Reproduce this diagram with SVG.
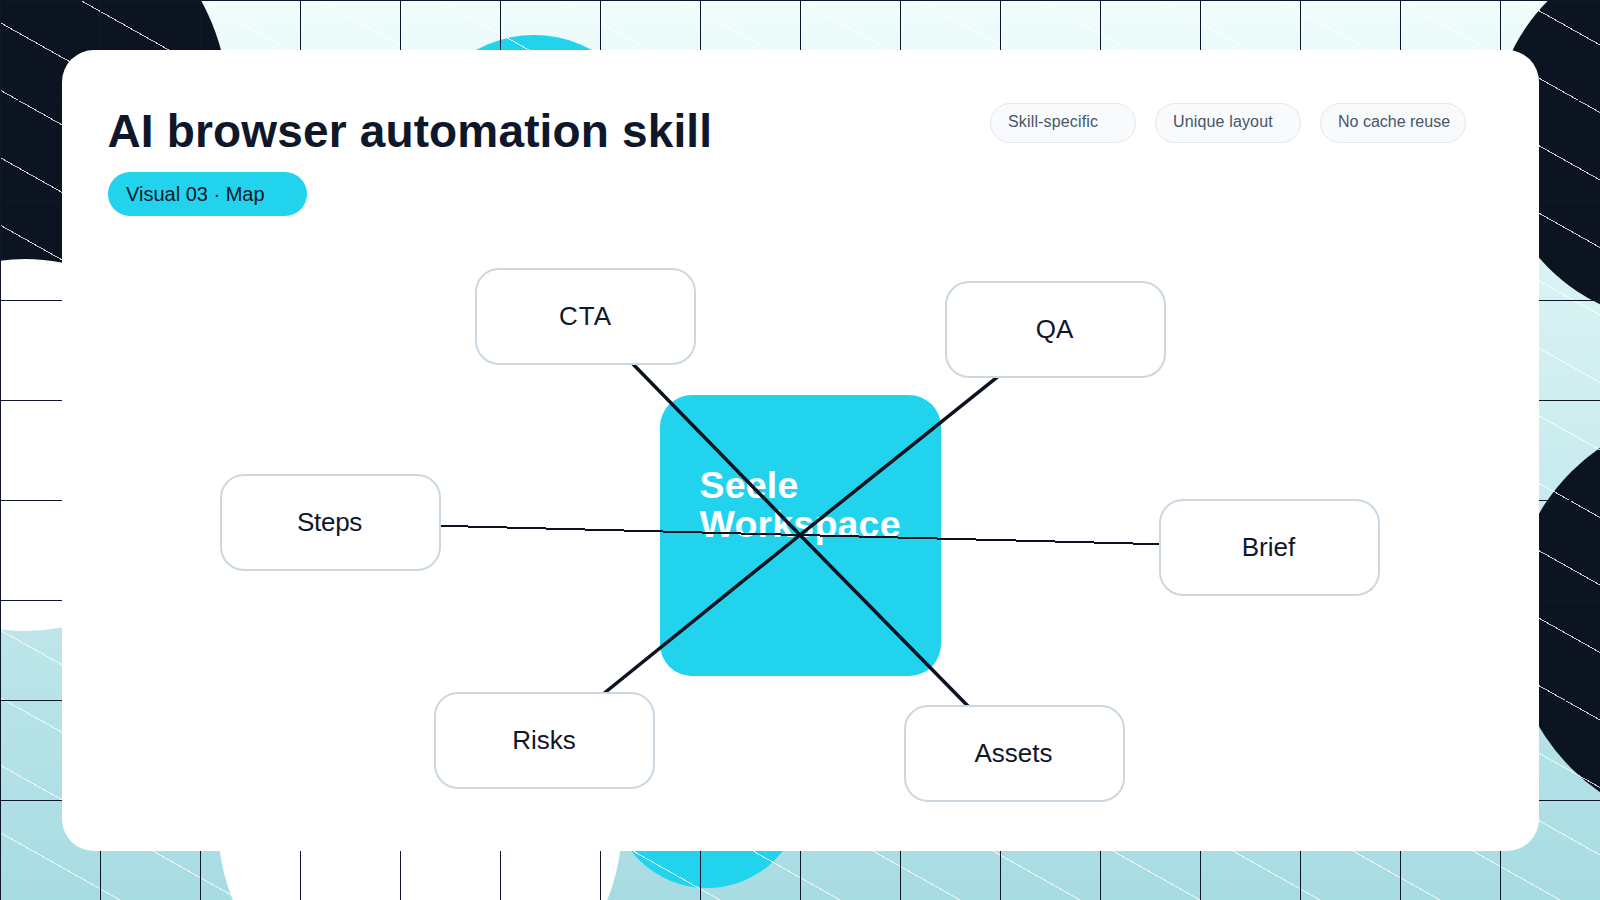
<svg xmlns="http://www.w3.org/2000/svg" width="1600" height="900" viewBox="0 0 1600 900">
<defs>
<linearGradient id="bg" x1="0" y1="0" x2="0" y2="1"><stop offset="0" stop-color="#effdfb"/><stop offset="1" stop-color="#a7dce2"/></linearGradient>
<style>
text{font-family:"Liberation Sans",Arial,sans-serif}
.dark{fill:#0b1420}
.diag{fill:none;stroke:#fff;stroke-width:1;stroke-opacity:.8;shape-rendering:crispEdges}
.grid{fill:none;stroke:#0f172a;stroke-width:1;shape-rendering:crispEdges}
.chip rect{fill:#f8fafc;stroke:#e2e8f0;stroke-width:1}
.chip text{font-size:16px;fill:#475569}
.node rect{fill:#fff;stroke:#cbd8e2;stroke-width:2}
.node text{font-size:26px;fill:#0f172a;text-anchor:middle}
.conn{stroke:#0b1220;fill:none}
</style>
</defs>
<g id="background">
<rect width="1600" height="900" fill="url(#bg)"/>
<circle class="dark" cx="0" cy="110" r="229"/>
<circle class="dark" cx="1682" cy="134" r="189"/>
<circle class="dark" cx="1720" cy="620" r="210"/>
<circle cx="25" cy="445" r="186" fill="#fff"/>
<circle cx="420" cy="824" r="202" fill="#fff"/>
<circle cx="534" cy="155" r="120" fill="#22d3ee"/>
<circle cx="707" cy="792" r="96" fill="#22d3ee"/>
<path class="diag" d="M0 -855L1600 45M0 -787.5L1600 112.5M0 -720L1600 180M0 -652.5L1600 247.5M0 -585L1600 315M0 -517.5L1600 382.5M0 -450L1600 450M0 -382.5L1600 517.5M0 -315L1600 585M0 -247.5L1600 652.5M0 -180L1600 720M0 -112.5L1600 787.5M0 -45L1600 855M0 22.5L1600 922.5M0 90L1600 990M0 157.5L1600 1057.5M0 225L1600 1125M0 292.5L1600 1192.5M0 360L1600 1260M0 427.5L1600 1327.5M0 495L1600 1395M0 562.5L1600 1462.5M0 630L1600 1530M0 697.5L1600 1597.5M0 765L1600 1665M0 832.5L1600 1732.5"/>
<path class="grid" d="M0.5 0V900M100.5 0V900M200.5 0V900M300.5 0V900M400.5 0V900M500.5 0V900M600.5 0V900M700.5 0V900M800.5 0V900M900.5 0V900M1000.5 0V900M1100.5 0V900M1200.5 0V900M1300.5 0V900M1400.5 0V900M1500.5 0V900M0 0.5H1600M0 100.5H1600M0 200.5H1600M0 300.5H1600M0 400.5H1600M0 500.5H1600M0 600.5H1600M0 700.5H1600M0 800.5H1600"/>
</g>
<rect id="card" x="62" y="50" width="1477" height="801" rx="32" fill="#fff"/>
<text id="title" x="107.5" y="147" font-size="46" font-weight="700" letter-spacing="0.15" fill="#0f172a">AI browser automation skill</text>
<g id="badge"><rect x="108" y="172" width="199" height="44" rx="22" fill="#22d3ee"/><text x="126" y="201" font-size="20" fill="#0f172a">Visual 03 · Map</text></g>
<g id="chip-1" class="chip"><rect x="990.5" y="103.5" width="145" height="39" rx="19.5"/><text x="1008" y="127" letter-spacing="0.15">Skill-specific</text></g>
<g id="chip-2" class="chip"><rect x="1155.5" y="103.5" width="145" height="39" rx="19.5"/><text x="1173" y="127" letter-spacing="0.15">Unique layout</text></g>
<g id="chip-3" class="chip"><rect x="1320.5" y="103.5" width="145" height="39" rx="19.5"/><text x="1338" y="127">No cache reuse</text></g>
<g id="node-center"><rect x="660" y="395" width="281" height="281" rx="32" fill="#22d3ee"/><text x="699.5" y="498" font-size="37.5" font-weight="700" letter-spacing="0.2" fill="#fff">Seele</text><text x="699.5" y="537" font-size="37.5" font-weight="700" letter-spacing="0.2" fill="#fff">Workspace</text></g>
<g id="connectors">
<line class="conn" stroke-width="3.5" x1="800" y1="535" x2="586" y2="316"/>
<line class="conn" stroke-width="3.5" x1="800" y1="535" x2="1056" y2="330"/>
<line class="conn" stroke-width="2" shape-rendering="crispEdges" x1="800" y1="535" x2="331" y2="523"/>
<line class="conn" stroke-width="2" shape-rendering="crispEdges" x1="800" y1="535" x2="1270" y2="547"/>
<line class="conn" stroke-width="3.5" x1="800" y1="535" x2="545" y2="741"/>
<line class="conn" stroke-width="3.5" x1="800" y1="535" x2="1015" y2="754"/>
</g>
<g id="node-cta" class="node"><rect x="476" y="269" width="219" height="95" rx="23"/><text x="585.5" y="325" letter-spacing="1">CTA</text></g>
<g id="node-qa" class="node"><rect x="946" y="282" width="219" height="95" rx="23"/><text x="1054.5" y="338">QA</text></g>
<g id="node-steps" class="node"><rect x="221" y="475" width="219" height="95" rx="23"/><text x="329.5" y="531" letter-spacing="-0.3">Steps</text></g>
<g id="node-brief" class="node"><rect x="1160" y="500" width="219" height="95" rx="23"/><text x="1268.5" y="556">Brief</text></g>
<g id="node-risks" class="node"><rect x="435" y="693" width="219" height="95" rx="23"/><text x="544" y="749">Risks</text></g>
<g id="node-assets" class="node"><rect x="905" y="706" width="219" height="95" rx="23"/><text x="1013.5" y="762">Assets</text></g>
</svg>
